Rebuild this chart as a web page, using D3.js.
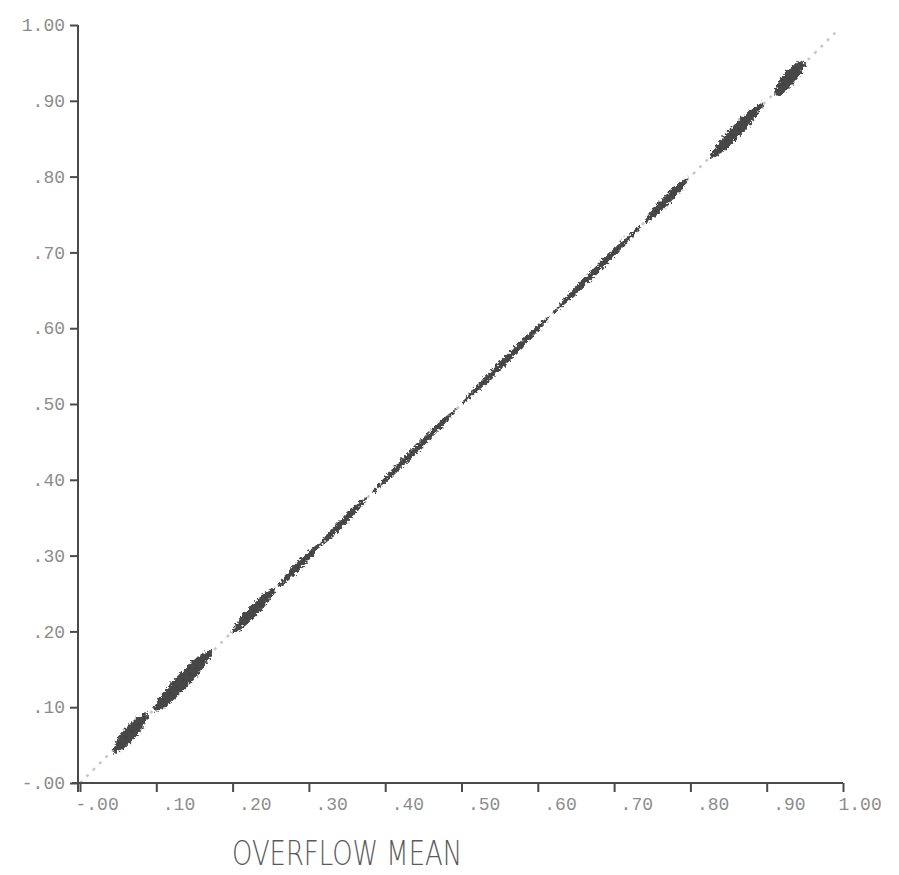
<!DOCTYPE html>
<html>
<head>
<meta charset="utf-8">
<script src="https://cdn.jsdelivr.net/npm/d3@7"></script>
<style>
  body { margin: 0; background: #fff; }
  svg { display: block; }
</style>
</head>
<body>
<svg id="chart"></svg>
<script>
var width = 899; // Width of the SVG element
var height = 875; // Height of the SVG element

// tick values and the labels as printed on the plot
var tickValues = [0, 0.1, 0.2, 0.3, 0.4, 0.5, 0.6, 0.7, 0.8, 0.9, 1.0];
var xTickLabels = ["-.00", ".10", ".20", ".30", ".40", ".50", ".60", ".70", ".80", ".90", "1.00"];
var yTickLabels = ["-.00", ".10", ".20", ".30", ".40", ".50", ".60", ".70", ".80", ".90", "1.00"];

// dense runs of points along the diagonal: start, end (overflow mean) and half spread of the scatter
var runStart  = [0.043, 0.096, 0.200, 0.260, 0.315, 0.383, 0.500, 0.620, 0.740, 0.826, 0.910];
var runEnd    = [0.089, 0.173, 0.257, 0.315, 0.376, 0.494, 0.616, 0.735, 0.797, 0.895, 0.950];
var runSpread = [0.0120, 0.0130, 0.0095, 0.0065, 0.0062, 0.0056, 0.0056, 0.0054, 0.0075, 0.0105, 0.0120];

// sparse points that trail along the same line
var sparseX = [0.0, 0.99];

var runs = runStart.map(function(d, i) {
  return { x0: d, x1: runEnd[i], s: runSpread[i] };
});

var svg = d3.select('#chart')
  .attr('width', width)
  .attr('height', height)
  .style('background', '#fff');

// scales
var x = d3.scaleLinear().domain([0, 1]).range([80, 843]);
var y = d3.scaleLinear().domain([0, 1]).range([783, 25]);

// rough edges, like the plotter ink
var defs = svg.append('defs');
var filt = defs.append('filter').attr('id', 'rough')
  .attr('x', '-20%').attr('y', '-20%').attr('width', '140%').attr('height', '140%');
filt.append('feTurbulence')
  .attr('type', 'fractalNoise')
  .attr('baseFrequency', 0.4)
  .attr('numOctaves', 2)
  .attr('seed', 3)
  .attr('result', 'noise');
filt.append('feDisplacementMap')
  .attr('in', 'SourceGraphic')
  .attr('in2', 'noise')
  .attr('scale', 7)
  .attr('xChannelSelector', 'R')
  .attr('yChannelSelector', 'G');

// faint trail of points on the diagonal
svg.append('line')
  .attr('x1', x(sparseX[0])).attr('y1', y(sparseX[0]))
  .attr('x2', x(sparseX[1])).attr('y2', y(sparseX[1]))
  .attr('stroke', '#c8c8c8')
  .attr('stroke-width', 2.5)
  .attr('stroke-dasharray', '3 6');

// dense runs drawn as tapered bands around y = x
var band = d3.area()
  .x(function(p) { return x(p[0]); })
  .y0(function(p) { return y(p[0] - p[1]); })
  .y1(function(p) { return y(p[0] + p[1]); })
  .curve(d3.curveBasis);

svg.append('g')
  .attr('filter', 'url(#rough)')
  .selectAll('.run')
  .data(runs)
  .enter()
  .append('path')
  .attr('class', 'run')
  .attr('d', function(d) {
    var len = d.x1 - d.x0;
    return band([
      [d.x0, d.s * 0.25],
      [d.x0 + len * 0.2, d.s],
      [d.x0 + len * 0.5, d.s * 1.05],
      [d.x1 - len * 0.2, d.s],
      [d.x1, d.s * 0.25]
    ]);
  })
  .attr('fill', '#363636')
  .attr('fill-opacity', 0.92);

// x axis
var xAxis = svg.append('g')
  .attr('transform', 'translate(0,783)')
  .call(d3.axisBottom(x)
    .tickValues(tickValues)
    .tickFormat(function(d, i) { return xTickLabels[i]; })
    .tickSize(9)
    .tickSizeOuter(0));

xAxis.select('.domain')
  .attr('stroke', '#4a4a4a')
  .attr('stroke-width', 2)
  .attr('d', 'M72,0H843');
xAxis.selectAll('.tick line').attr('stroke', '#4a4a4a').attr('stroke-width', 2);
xAxis.selectAll('.tick text')
  .attr('text-anchor', 'start')
  .attr('x', function(d, i) { return 6 - (xTickLabels[i].length - 3) * 11; })
  .attr('y', 14)
  .attr('dy', '0.71em')
  .attr('fill', '#8c8c8c')
  .style('font-family', '"Liberation Mono", "DejaVu Sans Mono", monospace')
  .style('font-size', '18px');

// y axis
var yAxis = svg.append('g')
  .attr('transform', 'translate(78,0)')
  .call(d3.axisLeft(y)
    .tickValues(tickValues)
    .tickFormat(function(d, i) { return yTickLabels[i]; })
    .tickSize(8)
    .tickPadding(5)
    .tickSizeOuter(0));

yAxis.select('.domain')
  .attr('stroke', '#4a4a4a')
  .attr('stroke-width', 2)
  .attr('d', 'M0,25V792');
yAxis.selectAll('.tick line').attr('stroke', '#4a4a4a').attr('stroke-width', 2);
yAxis.selectAll('.tick text')
  .attr('fill', '#8c8c8c')
  .style('font-family', '"Liberation Mono", "DejaVu Sans Mono", monospace')
  .style('font-size', '18px');

// x axis title
svg.append('text')
  .attr('x', 232)
  .attr('y', 865)
  .attr('textLength', 230)
  .attr('lengthAdjust', 'spacingAndGlyphs')
  .text('OVERFLOW MEAN')
  .attr('fill', '#5a5a5a')
  .style('font-family', '"DejaVu Sans", sans-serif')
  .style('font-weight', 200)
  .style('font-size', '34px');
</script>
</body>
</html>
